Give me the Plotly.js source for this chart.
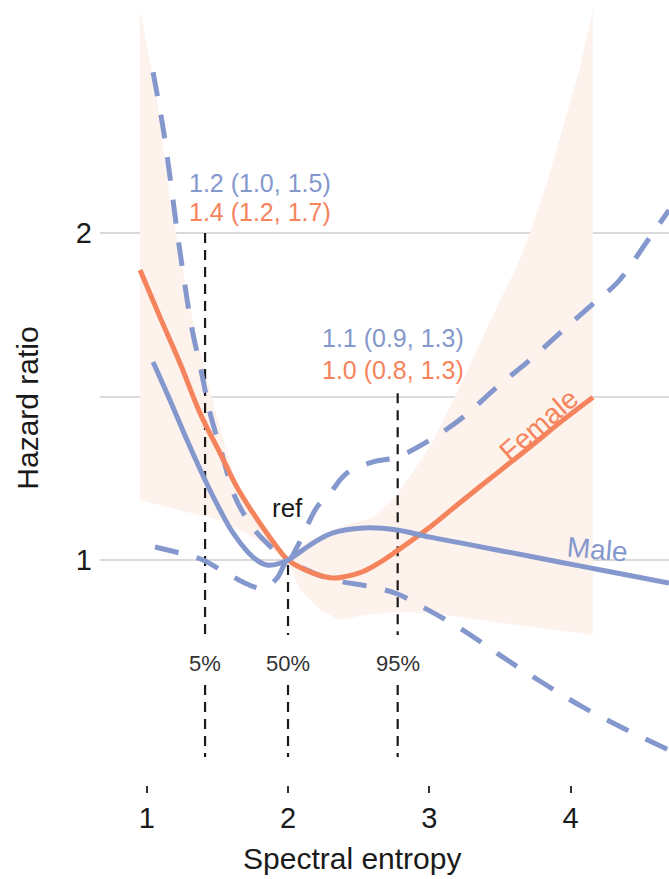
<!DOCTYPE html>
<html>
<head>
<meta charset="utf-8">
<script src="https://cdn.plot.ly/plotly-3.0.1.min.js"></script>
<style>html,body{margin:0;padding:0;background:#fff}</style>
</head>
<body>
<div id="chart" style="width:669px;height:879px"></div>
<script>
// Hazard ratio curves against spectral entropy, reference value at 2 (median)
const femaleX = [0.953, 1.094, 1.236, 1.377, 1.519, 1.639, 1.752, 1.92, 2.0, 2.177, 2.318, 2.389, 2.531, 2.651, 2.771, 2.885, 3.005, 3.238, 3.479, 3.712, 3.946, 4.158];
const femaleHR = [1.887, 1.743, 1.602, 1.45, 1.327, 1.223, 1.144, 1.041, 1.0, 0.96, 0.945, 0.948, 0.965, 0.993, 1.028, 1.063, 1.101, 1.183, 1.266, 1.346, 1.428, 1.498];

// Female 95% confidence band (upper and lower edges)
const femaleUpperX = [0.953, 1.073, 1.165, 1.286, 1.357, 1.448, 1.541, 1.66, 1.837, 2.0, 2.156, 2.368, 2.602, 2.771, 3.005, 3.238, 3.5, 3.62, 3.712, 3.833, 3.946, 4.066, 4.158];
const femaleUpper = [2.68, 2.41, 2.10, 1.817, 1.673, 1.52, 1.367, 1.205, 1.076, 1.0, 1.061, 1.101, 1.13, 1.2, 1.346, 1.55, 1.795, 1.896, 2.0, 2.153, 2.324, 2.508, 2.682];
const femaleLowerX = [0.953, 1.144, 1.286, 1.519, 1.66, 1.837, 2.0, 2.085, 2.226, 2.368, 2.531, 2.771, 3.005, 3.479, 4.158];
const femaleLower = [1.183, 1.162, 1.146, 1.122, 1.092, 1.046, 1.0, 0.908, 0.847, 0.817, 0.832, 0.841, 0.838, 0.81, 0.771];

const maleX = [1.045, 1.165, 1.285, 1.413, 1.519, 1.611, 1.752, 1.851, 1.943, 2.0, 2.177, 2.318, 2.531, 2.771, 3.005, 3.238, 3.479, 3.946, 4.187, 4.696];
const maleHR = [1.606, 1.489, 1.367, 1.245, 1.153, 1.083, 1.009, 0.985, 0.99, 1.0, 1.052, 1.083, 1.098, 1.092, 1.07, 1.051, 1.031, 0.992, 0.972, 0.93];

// Male 95% confidence limits
const maleUpperX = [1.045, 1.115, 1.165, 1.214, 1.248, 1.318, 1.389, 1.448, 1.531, 1.625, 1.75, 1.851, 2.0, 2.064, 2.205, 2.297, 2.417, 2.6, 2.771, 3.005, 3.238, 3.479, 3.712, 3.946, 4.187, 4.327, 4.562, 4.696];
const maleUpper = [2.492, 2.324, 2.171, 2.009, 1.907, 1.713, 1.571, 1.45, 1.327, 1.193, 1.1, 1.052, 1.0, 1.04, 1.162, 1.205, 1.266, 1.3, 1.315, 1.367, 1.437, 1.529, 1.612, 1.703, 1.795, 1.847, 1.988, 2.07];
const maleLowerX = [1.059, 1.236, 1.398, 1.611, 1.823, 1.923, 2.0, 2.085, 2.297, 2.602, 2.771, 2.955, 3.238, 3.521, 3.804, 4.087, 4.398, 4.696];
const maleLower = [1.04, 1.021, 1.0, 0.948, 0.914, 0.945, 1.0, 0.979, 0.942, 0.917, 0.897, 0.856, 0.786, 0.703, 0.624, 0.55, 0.48, 0.419];

// Percentiles of spectral entropy and the hazard ratios (95% CI) read at 5% and 95%
const pctLabels = ['5%', '50%', '95%'];
const pctX = [1.413, 2.0, 2.776];
const pctLineTop = [2.0, 0.985, 1.51];
const maleAtPct = ['1.2 (1.0, 1.5)', '1.1 (0.9, 1.3)'];
const femaleAtPct = ['1.4 (1.2, 1.7)', '1.0 (0.8, 1.3)'];

const xTicks = [1, 2, 3, 4];
const yTicks = [1, 1.5, 2];
const yTickText = ['1', '', '2'];

const BLUE = '#8598cd';
const ORANGE = '#f5845c';
const BAND = '#fdf2ec';
const FONT = 'Liberation Sans, Arial, Helvetica, sans-serif';

const bandX = femaleUpperX.concat(femaleLowerX.slice().reverse());
const bandY = femaleUpper.concat(femaleLower.slice().reverse());

const traces = [
  {x: bandX, y: bandY, type: 'scatter', mode: 'lines', fill: 'toself',
   fillcolor: BAND, line: {width: 0, color: BAND}, hoverinfo: 'skip', showlegend: false}
];

// dashed percentile markers, split around their labels
const segLow = [0.771, 0.618, 0.398];
pctX.forEach((px, i) => {
  traces.push({x: [px, px, null, px, px], y: [pctLineTop[i], segLow[0], null, segLow[1], segLow[2]],
    type: 'scatter', mode: 'lines', line: {color: '#1a1a1a', width: 2.2, dash: '10px,7px'},
    hoverinfo: 'skip', showlegend: false});
});

const smooth = 1.0;
traces.push(
  {x: maleUpperX, y: maleUpper, type: 'scatter', mode: 'lines', name: 'Male upper',
   line: {color: BLUE, width: 5, dash: '24px,19px', shape: 'spline', smoothing: smooth}, showlegend: false},
  {x: maleLowerX, y: maleLower, type: 'scatter', mode: 'lines', name: 'Male lower',
   line: {color: BLUE, width: 5, dash: '24px,19px', shape: 'spline', smoothing: smooth}, showlegend: false},
  {x: femaleX, y: femaleHR, type: 'scatter', mode: 'lines', name: 'Female',
   line: {color: ORANGE, width: 5, shape: 'spline', smoothing: smooth}, showlegend: false},
  {x: maleX, y: maleHR, type: 'scatter', mode: 'lines', name: 'Male',
   line: {color: BLUE, width: 5, shape: 'spline', smoothing: smooth}, showlegend: false}
);

function note(text, x, y, size, color, extra) {
  return Object.assign({text: text, x: x, y: y, xanchor: 'center', yanchor: 'middle', showarrow: false,
    font: {family: FONT, size: size, color: color}}, extra || {});
}

const annotations = [
  note('Hazard ratio', -0.1274, 0.48, 30, '#1a1a1a', {xref: 'paper', yref: 'paper', textangle: -90}),
  note('Spectral entropy', 2.456, -0.094, 30, '#1a1a1a', {yref: 'paper'}),
  note(maleAtPct[0], 1.286, 2.153, 25, BLUE, {xanchor: 'left'}),
  note(femaleAtPct[0], 1.286, 2.064, 25, ORANGE, {xanchor: 'left'}),
  note(maleAtPct[1], 2.226, 1.679, 25, BLUE, {xanchor: 'left'}),
  note(femaleAtPct[1], 2.226, 1.581, 25, ORANGE, {xanchor: 'left'}),
  note('ref', 1.993, 1.159, 26, '#1a1a1a'),
  note('Male', 4.187, 1.031, 28, BLUE, {textangle: 5}),
  note('Female', 3.77, 1.413, 28, ORANGE, {textangle: -41})
];
pctLabels.forEach((lab, i) => {
  annotations.push(note(lab, pctX[i], 0.685, 22, '#333333'));
});

const layout = {
  width: 669, height: 879,
  margin: {l: 100, r: 0, t: 0, b: 94},
  paper_bgcolor: '#ffffff', plot_bgcolor: '#ffffff',
  font: {family: FONT},
  showlegend: false,
  xaxis: {range: [0.6695, 4.696], tickvals: xTicks, ticks: 'outside', ticklen: 7, tickwidth: 2,
          tickcolor: '#333333', showgrid: false, zeroline: false, showline: false,
          tickfont: {family: FONT, size: 29, color: '#1a1a1a'}},
  yaxis: {range: [0.312, 2.713], tickvals: yTicks, ticktext: yTickText, ticks: '',
          ticklabelstandoff: 7,
          showgrid: true, gridcolor: '#dadada', gridwidth: 2, zeroline: false, showline: false,
          tickfont: {family: FONT, size: 29, color: '#1a1a1a'}},
  annotations: annotations
};

Plotly.newPlot('chart', traces, layout, {staticPlot: true, displayModeBar: false});
</script>
</body>
</html>
